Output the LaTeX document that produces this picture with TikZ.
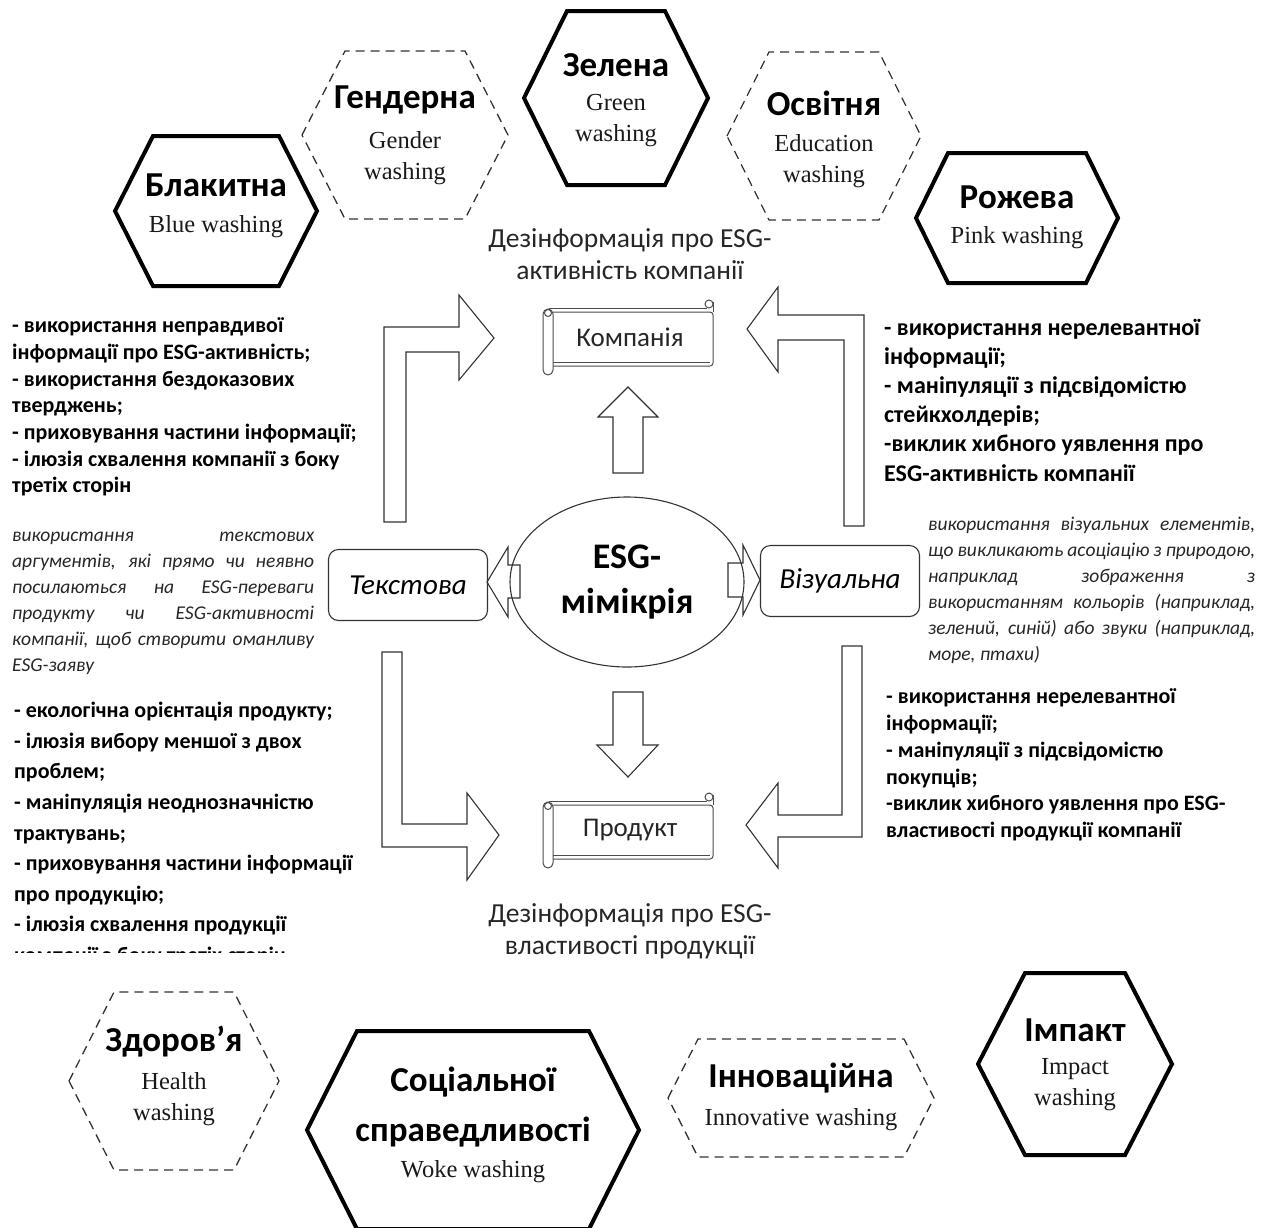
\documentclass[tikz,border=0pt]{standalone}
\usepackage{fontspec}
\setmainfont{Carlito}
\newfontfamily\washfont{Liberation Serif}
\usetikzlibrary{shapes.geometric}

\newcommand{\jline}[2]{\makebox[#1][s]{#2}}

\tikzset{
  hexbold/.style={draw, line width=4pt, line join=miter},
  hexdash/.style={draw=black!80, line width=1.3pt, dash pattern=on 9pt off 6pt},
  hextitle/.style={font=\fontsize{35}{50}\selectfont\bfseries, align=center, inner sep=0pt},
  hexsub/.style={font=\washfont\fontsize{24.5}{31}\selectfont, align=center, inner sep=0pt, text=black!90},
  note/.style={font=\fontsize{27.5}{32}\selectfont, align=center, inner sep=0pt, text=black!85},
  listbold/.style={align=left, anchor=west, inner sep=0pt},
  listital/.style={font=\fontsize{19.5}{26}\selectfont\itshape, align=left, anchor=west, inner sep=0pt, text=black!85},
  blockarrow/.style={draw=black!80, line width=1.1pt, fill=white, line join=miter},
  scrollline/.style={draw=black!70, line width=1pt},
  sidebox/.style={draw=black!80, line width=1.1pt, rounded corners=10pt, minimum width=159pt, minimum height=71pt, font=\fontsize{29}{32}\selectfont\itshape}
}

\begin{document}
\begin{tikzpicture}[x=1pt,y=-1pt]
\useasboundingbox (0,0) rectangle (1268,1227);

\foreach \cx/\cy/\hw/\hh/\tw/\st in {
  216/211/101/75/63/hexbold,
  405/135/103/84/60/hexdash,
  616/98/92/87/49/hexbold,
  824/136/97/84/55/hexdash,
  1017/218/101/65/69/hexbold,
  174/1081/105/89/60/hexdash,
  473/1130/166/99/116/hexbold,
  801/1098/133/59/103/hexdash,
  1075/1064/97/91/50/hexbold}
  \draw[\st] (\cx-\hw,\cy) -- (\cx-\tw,\cy-\hh) -- (\cx+\tw,\cy-\hh) -- (\cx+\hw,\cy)
    -- (\cx+\tw,\cy+\hh) -- (\cx-\tw,\cy+\hh) -- cycle;

\node[hextitle] (blue) at (216,185) {Блакитна};
\node[hexsub] (bluesub) at (216,227) {Blue washing};
\node[hextitle] (gender) at (405,100) {Гендерна};
\node[hexsub] (gendersub) at (405,158) {Gender\\washing};
\node[hextitle] (green) at (616,65) {Зелена};
\node[hexsub] (greensub) at (616,121) {Green\\washing};
\node[hextitle] (educ) at (824,103) {Освітня};
\node[hexsub] (educsub) at (824,161) {Education\\washing};
\node[hextitle] (pink) at (1017,197) {Рожева};
\node[hexsub] (pinksub) at (1017,238) {Pink washing};
\node[hextitle] (health) at (174,1042) {Здоров’я};
\node[hexsub] (healthsub) at (174,1099) {Health\\washing};
\node[hextitle] (woke) at (473,1107) {Соціальної\\справедливості};
\node[hexsub] (wokesub) at (473,1172) {Woke washing};
\node[hextitle] (innov) at (801,1078) {Інноваційна};
\node[hexsub] (innovsub) at (801,1120) {Innovative washing};
\node[hextitle] (impact) at (1075,1030) {Імпакт};
\node[hexsub] (impactsub) at (1075,1085) {Impact\\washing};

\node[note] (misco) at (630,254) {Дезінформація про ESG-\\активність компанії};
\node[note] (mispr) at (630,931) {Дезінформація про ESG-\\властивості продукції};

\foreach \sy in {0,493} {
  \begin{scope}[shift={(0,\sy)}]
    \draw[scrollline] (549,308) -- (707,308);
    \draw[scrollline, rounded corners=3pt] (553,312) -- (713,312) -- (713,366) -- (553,366);
    \draw[scrollline] (553,362) -- (710,362);
    \draw[scrollline] (713,312) -- (713,302);
    \draw[scrollline, fill=white] (709,304) circle (4);
    \draw[scrollline, rounded corners=5pt, fill=white] (543,309) rectangle (553,375);
    \draw[scrollline] (548,313) circle (3.5);
  \end{scope}
}
\node[font=\fontsize{27}{30}\selectfont, text=black!85] (company) at (630,337) {Компанія};
\node[font=\fontsize{27}{30}\selectfont, text=black!85] (product) at (630,830) {Продукт};

\draw[blockarrow] (384,522) -- (384,327) -- (459,327) -- (459,295) -- (494,338) -- (459,380)
  -- (459,352) -- (406,352) -- (406,522) -- cycle;
\draw[blockarrow] (864,526) -- (864,315) -- (778,315) -- (778,287) -- (747,329) -- (778,372)
  -- (778,340) -- (844,340) -- (844,526) -- cycle;
\draw[blockarrow] (382,652) -- (382,847) -- (467,847) -- (467,880) -- (499,835) -- (467,793)
  -- (467,824) -- (402,824) -- (402,652) -- cycle;
\draw[blockarrow] (862,646) -- (862,837) -- (778,837) -- (778,868) -- (746,825) -- (778,783)
  -- (778,815) -- (842,815) -- (842,646) -- cycle;

\draw[blockarrow] (613,473) -- (613,417) -- (598,417) -- (628,387) -- (658,417) -- (643,417) -- (643,473) -- cycle;
\draw[blockarrow] (613,692) -- (613,745) -- (597,745) -- (628,777) -- (658,745) -- (643,745) -- (643,692) -- cycle;
\draw[blockarrow] (520,565) -- (508,565) -- (508,547) -- (487,582) -- (508,617) -- (508,598) -- (520,598) -- cycle;
\draw[blockarrow] (728,563) -- (743,563) -- (743,545) -- (760,580) -- (743,615) -- (743,597) -- (728,597) -- cycle;

\node[draw=black!80, line width=1.1pt, ellipse, minimum width=234pt, minimum height=170pt,
  font=\fontsize{36}{45}\selectfont\bfseries, align=center] (esg) at (627,582) {ESG-\\мімікрія};
\node[sidebox] (textova) at (408,585) {Текстова};
\node[sidebox] (vizualna) at (840,581) {Візуальна};

\node[listbold, font=\fontsize{22}{26.7}\selectfont\bfseries] (leftco) at (12,407)
  {- використання неправдивої\\інформації про ESG-активність;\\- використання бездоказових\\тверджень;\\- приховування частини інформації;\\- ілюзія схвалення компанії з боку\\третіх сторін};
\node[listital] (lefttext) at (12,603)
  {\jline{302pt}{використання текстових}\\\jline{302pt}{аргументів, які прямо чи неявно}\\\jline{302pt}{посилаються на ESG-переваги}\\\jline{302pt}{продукту чи ESG-активності}\\\jline{302pt}{компанії, щоб створити оманливу}\\ESG-заяву};
\begin{scope}
  \clip (0,690) rectangle (420,952);
  \node[listbold, font=\fontsize{22}{30.6}\selectfont\bfseries] (leftpr) at (14,834)
    {- екологічна орієнтація продукту;\\- ілюзія вибору меншої з двох\\проблем;\\- маніпуляція неоднозначністю\\трактувань;\\- приховування частини інформації\\про продукцію;\\- ілюзія схвалення продукції\\компанії з боку третіх сторін};
\end{scope}

\node[listbold, font=\fontsize{24}{29.2}\selectfont\bfseries] (rightco) at (884,400)
  {- використання нерелевантної\\інформації;\\- маніпуляції з підсвідомістю\\стейкхолдерів;\\-виклик хибного уявлення про\\ESG-активність компанії};
\node[listital] (righttext) at (928,590)
  {\jline{327pt}{використання візуальних елементів,}\\\jline{327pt}{що викликають асоціацію з природою,}\\\jline{327pt}{наприклад зображення з}\\\jline{327pt}{використанням кольорів (наприклад,}\\\jline{327pt}{зелений, синій) або звуки (наприклад,}\\море, птахи)};
\node[listbold, font=\fontsize{22}{26.8}\selectfont\bfseries] (rightpr) at (886,765)
  {- використання нерелевантної\\інформації;\\- маніпуляції з підсвідомістю\\покупців;\\-виклик хибного уявлення про ESG-\\властивості продукції компанії};

\end{tikzpicture}
\end{document}
